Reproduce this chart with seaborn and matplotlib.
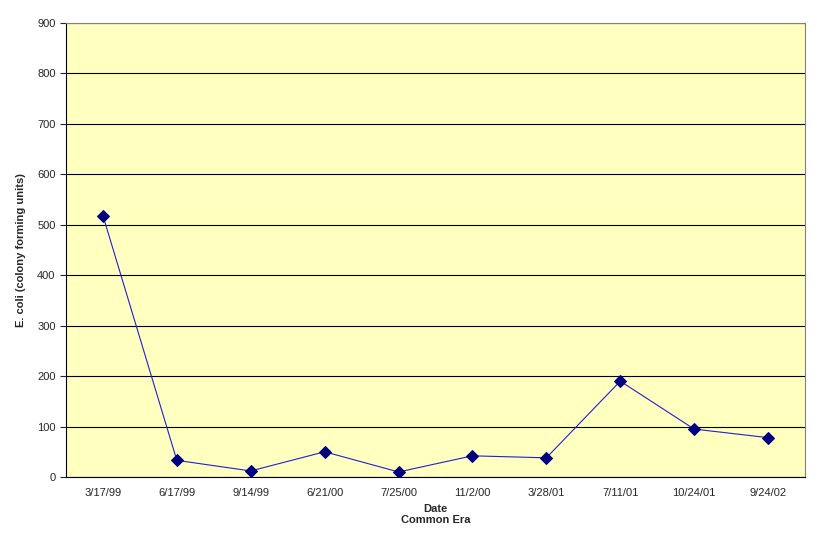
import matplotlib
matplotlib.use("Agg")
import matplotlib.pyplot as plt
import numpy as np
import pandas as pd
import seaborn as sns

DATES = ["3/17/99", "6/17/99", "9/14/99", "6/21/00", "7/25/00",
         "11/2/00", "3/28/01", "7/11/01", "10/24/01", "9/24/02"]
ECOLI = [518, 33, 12, 50, 10, 42, 38, 190, 95, 78]

sns.set_style("white")
plt.rcParams["font.family"] = ["Liberation Sans", "DejaVu Sans"]

df = pd.DataFrame({"pos": np.arange(len(DATES)), "ecoli": ECOLI})

fig = plt.figure(figsize=(8.15, 5.49), dpi=100)
ax = fig.add_axes([66 / 815, 1 - 477 / 549, (805 - 66) / 815, (477 - 23) / 549])
ax.set_facecolor("#FFFFC0")

sns.lineplot(data=df, x="pos", y="ecoli", ax=ax, color="#2020D0", linewidth=0.8,
             marker="D", markersize=6.5, markerfacecolor="#000080",
             markeredgecolor="#000080")

ax.set_xlim(-0.5, len(DATES) - 0.5)
ax.set_ylim(0, 900)
ax.set_yticks(range(0, 901, 100))
ax.yaxis.grid(True, color="black", linewidth=0.8)
ax.set_axisbelow(True)
ax.set_xticks(df["pos"])
ax.set_xticklabels(DATES, fontsize=8)
ax.set_xticks(np.arange(-0.5, len(DATES), 1), minor=True)
ax.tick_params(axis="x", which="major", length=0, pad=8)
ax.tick_params(axis="x", which="minor", length=4, direction="out")
ax.tick_params(axis="y", labelsize=8, length=4, direction="out", left=True)
for s in ax.spines.values():
    s.set_color("#808080")
ax.spines["bottom"].set_color("black")
ax.spines["left"].set_color("black")

ax.set_xlabel("Date\nCommon Era", fontsize=8, fontweight="bold", labelpad=4)
ax.set_ylabel("E. coli (colony forming units)", fontsize=8, fontweight="bold", labelpad=8)

fig.savefig("out.png", dpi=100, facecolor="white")
